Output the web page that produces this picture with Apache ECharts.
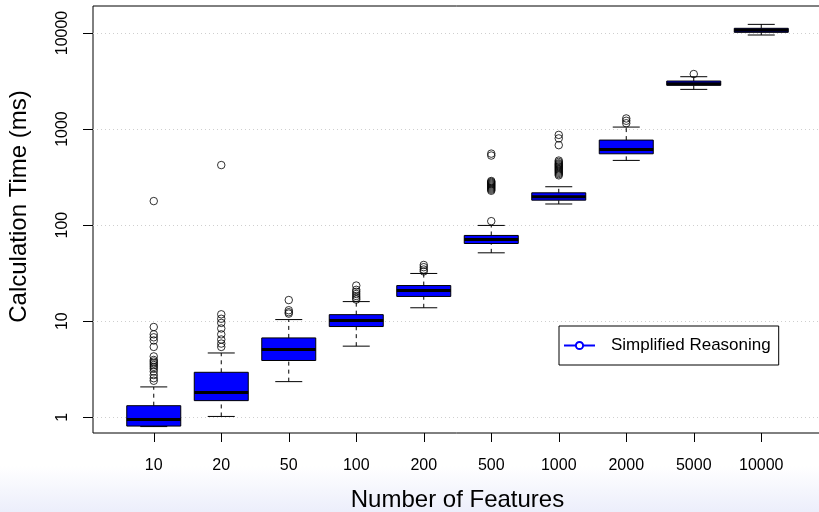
<!DOCTYPE html>
<html><head><meta charset="utf-8">
<script src="https://cdn.jsdelivr.net/npm/echarts@6/dist/echarts.min.js"></script>
<style>
html,body{margin:0;padding:0;}
body{width:819px;height:512px;overflow:hidden;background:linear-gradient(to bottom,#ffffff 0px,#ffffff 466px,#eceefb 512px);}
#c{width:819px;height:512px;}
</style></head><body><div id="c"></div>
<script>
const categories = ['10','20','50','100','200','500','1000','2000','5000','10000'];
const yTicks = [1, 10, 100, 1000, 10000];
const whiskerLow  = [0.80, 1.02, 2.35, 5.5, 13.8, 51.5, 166, 472, 2589, 9530];
const q1          = [0.81, 1.49, 3.9, 8.8, 18.1, 64.4, 182, 553, 2853, 10160];
const median      = [0.95, 1.81, 5.07, 10.2, 20.9, 71, 197, 614, 2965, 10660];
const q3          = [1.32, 2.94, 6.7, 11.7, 23.5, 78.1, 217, 768, 3162, 11190];
const whiskerHigh = [2.07, 4.67, 10.4, 16.0, 31.4, 99.3, 251, 1049, 3508, 12300];
const outliers10    = [2.4, 2.55, 2.75, 3.0, 3.2, 3.35, 3.5, 3.65, 3.8, 3.95, 4.3, 5.4, 6.3, 6.8, 7.3, 8.7, 178];
const outliers20    = [5.4, 5.85, 6.45, 7.3, 8.4, 9.6, 10.6, 11.8, 422];
const outliers50    = [12.0, 12.4, 13.0, 16.6];
const outliers100   = [16.8, 17.5, 18.3, 19.2, 20.2, 21.2, 23.5];
const outliers200   = [33, 34.5, 36.5, 38.5];
const outliers500   = [110, 228, 234, 240, 246, 252, 258, 264, 270, 276, 282, 288, 530, 555];
const outliers1000  = [330, 340, 350, 360, 370, 380, 390, 400, 410, 420, 430, 440, 455, 470, 680, 800, 870];
const outliers2000  = [1150, 1220, 1290];
const outliers5000  = [3740];
const outliers10000 = [];
const seriesName = 'Simplified Reasoning';

const outlierLists = [outliers10, outliers20, outliers50, outliers100, outliers200,
  outliers500, outliers1000, outliers2000, outliers5000, outliers10000];
const boxData = categories.map((c, i) => [i + 1, whiskerLow[i], q1[i], median[i], q3[i], whiskerHigh[i]]);
const outlierData = [];
outlierLists.forEach((arr, i) => arr.forEach(v => outlierData.push([i + 1, v])));

const FONT = "'Liberation Sans', Arial, Helvetica, sans-serif";

function renderBox(params, api) {
  const x = api.value(0);
  const lo = api.value(1), a = api.value(2), md = api.value(3), b = api.value(4), hi = api.value(5);
  const L = api.coord([x - 0.4, md])[0], R = api.coord([x + 0.4, md])[0];
  const cL = api.coord([x - 0.2, md])[0], cR = api.coord([x + 0.2, md])[0];
  const cx = api.coord([x, md])[0];
  const yLo = api.coord([x, lo])[1], yQ1 = api.coord([x, a])[1], yMd = api.coord([x, md])[1];
  const yQ3 = api.coord([x, b])[1], yHi = api.coord([x, hi])[1];
  const dash = {stroke: '#000', lineWidth: 1, lineDash: [4, 4]};
  const solid = {stroke: '#000', lineWidth: 1};
  return {type: 'group', children: [
    {type: 'line', shape: {x1: cx, y1: yQ3, x2: cx, y2: yHi}, style: dash},
    {type: 'line', shape: {x1: cx, y1: yLo, x2: cx, y2: yQ1}, style: dash},
    {type: 'line', shape: {x1: cL, y1: yHi, x2: cR, y2: yHi}, style: solid},
    {type: 'line', shape: {x1: cL, y1: yLo, x2: cR, y2: yLo}, style: solid},
    {type: 'rect', shape: {x: L, y: yQ3, width: R - L, height: yQ1 - yQ3}, style: {fill: '#0000ff', stroke: '#000', lineWidth: 1}},
    {type: 'line', shape: {x1: L, y1: yMd, x2: R, y2: yMd}, style: {stroke: '#000', lineWidth: 3}}
  ]};
}

const chart = echarts.init(document.getElementById('c'), null, {renderer: 'canvas'});
chart.setOption({
  animation: false,
  backgroundColor: 'transparent',
  textStyle: {fontFamily: FONT},
  grid: {left: 93, top: 6, width: 729, height: 427, outerBoundsMode: 'none', containLabel: false,
    show: true, borderColor: '#000', borderWidth: 1, backgroundColor: 'transparent'},
  legend: {
    data: [seriesName], left: 559, top: 326, itemWidth: 31, itemHeight: 9,
    padding: [11, 8, 11, 4], borderColor: '#000', borderWidth: 1, backgroundColor: '#fff',
    selectedMode: false,
    textStyle: {fontSize: 17, color: '#000', fontFamily: FONT, padding: [0, 0, 0, 11]}
  },
  xAxis: {
    type: 'value', min: 0.1, max: 10.9,
    name: 'Number of Features', nameLocation: 'middle', nameGap: 55,
    nameTextStyle: {fontSize: 24, color: '#000', fontFamily: FONT},
    axisLine: {show: false},
    axisTick: {show: true, length: 9, inside: false, lineStyle: {color: '#000'}, customValues: categories.map((c, i) => i + 1)},
    axisLabel: {show: true, margin: 25, fontSize: 16, color: '#000', fontFamily: FONT,
      customValues: categories.map((c, i) => i + 1),
      formatter: v => categories[Math.round(v) - 1]},
    splitLine: {show: false}
  },
  yAxis: {
    type: 'log', logBase: 10, min: 0.686, max: 19100,
    name: 'Calculation Time (ms)', nameLocation: 'middle', nameGap: 62, nameRotate: 90,
    nameTextStyle: {fontSize: 24, color: '#000', fontFamily: FONT, padding: [0, 0, 0, 26]},
    axisLine: {show: false},
    axisTick: {show: true, length: 10, inside: false, lineStyle: {color: '#000'}, customValues: yTicks},
    axisLabel: {show: true, rotate: 90, margin: 22, fontSize: 16, color: '#000', fontFamily: FONT,
      customValues: yTicks, formatter: v => String(Math.round(v))},
    splitLine: {show: true, lineStyle: {color: '#cfcfcf', width: 1, type: [1, 3]}}
  },
  series: [
    {type: 'custom', name: 'boxes', renderItem: renderBox, data: boxData,
      encode: {x: 0, y: [1, 2, 3, 4, 5]}, z: 3, silent: true},
    {type: 'scatter', name: 'outliers', data: outlierData, symbol: 'circle', symbolSize: 7.5,
      itemStyle: {color: 'transparent', borderColor: '#000', borderWidth: 1}, z: 4, silent: true},
    {type: 'line', name: seriesName, data: [], color: '#0000ff', symbol: 'emptyCircle',
      lineStyle: {color: '#0000ff', width: 1}, itemStyle: {color: '#0000ff', borderColor: '#0000ff'}}
  ]
});
</script></body></html>
